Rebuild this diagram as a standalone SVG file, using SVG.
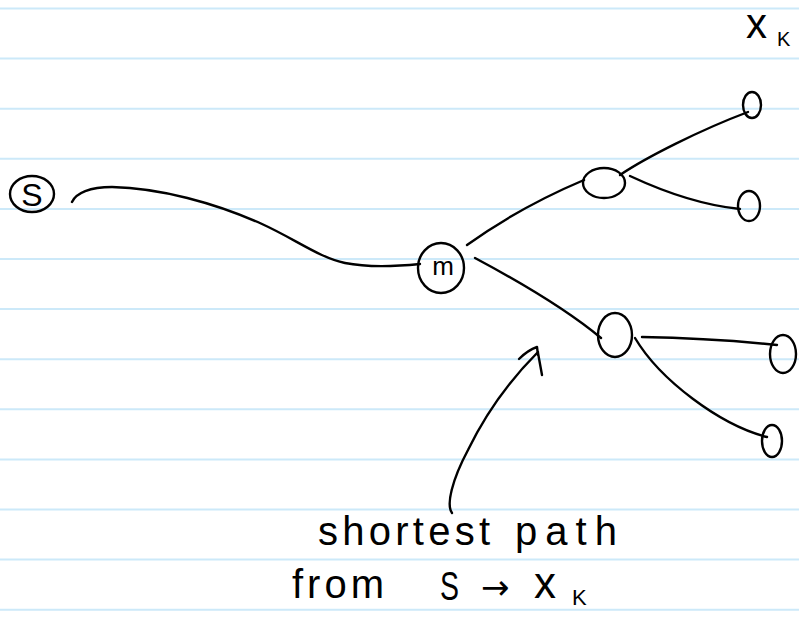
<svg xmlns="http://www.w3.org/2000/svg" width="799" height="636" viewBox="0 0 799 636">
<style>
.rule{stroke:#cce9f9;stroke-width:2}
.ink{fill:none;stroke:#000;stroke-width:2.4;stroke-linecap:round;stroke-linejoin:round}
.hand{font-family:"Liberation Sans",sans-serif;fill:#000}
.sym{font-family:"DejaVu Sans",sans-serif;fill:#000}
</style>
<rect width="799" height="636" fill="#fff"/>
<g id="ruled-lines">
<line class="rule" x1="0" y1="8.5" x2="799" y2="8.5"/>
<line class="rule" x1="0" y1="58.6" x2="799" y2="58.6"/>
<line class="rule" x1="0" y1="108.7" x2="799" y2="108.7"/>
<line class="rule" x1="0" y1="158.8" x2="799" y2="158.8"/>
<line class="rule" x1="0" y1="208.9" x2="799" y2="208.9"/>
<line class="rule" x1="0" y1="259" x2="799" y2="259"/>
<line class="rule" x1="0" y1="309.1" x2="799" y2="309.1"/>
<line class="rule" x1="0" y1="359.2" x2="799" y2="359.2"/>
<line class="rule" x1="0" y1="409.3" x2="799" y2="409.3"/>
<line class="rule" x1="0" y1="459.4" x2="799" y2="459.4"/>
<line class="rule" x1="0" y1="509.5" x2="799" y2="509.5"/>
<line class="rule" x1="0" y1="559.6" x2="799" y2="559.6"/>
<line class="rule" x1="0" y1="609.7" x2="799" y2="609.7"/>
</g>
<g id="connectors">
<path class="ink" d="M72,202 C76,193 90,187 112,187 C160,188 215,203 262,224 C295,239 320,258 345,263 C370,268 400,266 420,264"/>
<path class="ink" d="M467,245 Q520,207 584,180"/>
<path class="ink" d="M620,175 C645,158 700,130 748,112"/>
<path class="ink" d="M630,176 C660,190 700,205 740,209"/>
<path class="ink" d="M475,258 C520,282 565,308 601,338"/>
<path class="ink" d="M642,337 Q710,338 777,345"/>
<path class="ink" d="M635,338 C660,380 720,425 767,437"/>
</g>
<g id="node-s">
<ellipse class="ink" cx="32" cy="194" rx="22" ry="18"/>
<text class="hand" x="32" y="206" font-size="32" text-anchor="middle">S</text>
</g>
<g id="node-m">
<ellipse class="ink" cx="441" cy="268" rx="23" ry="25"/>
<text class="hand" x="443" y="275" font-size="26" text-anchor="middle">m</text>
</g>
<g id="node-upper"><ellipse class="ink" cx="604" cy="183" rx="21" ry="15"/></g>
<g id="node-lower"><ellipse class="ink" cx="615" cy="335" rx="17" ry="22"/></g>
<g id="leaf-1"><ellipse class="ink" cx="752" cy="105" rx="9" ry="13"/></g>
<g id="leaf-2"><ellipse class="ink" cx="749" cy="206" rx="11" ry="15"/></g>
<g id="leaf-3"><ellipse class="ink" cx="783" cy="354" rx="13" ry="19"/></g>
<g id="leaf-4"><ellipse class="ink" cx="772" cy="441" rx="10" ry="16"/></g>
<g id="label-xk">
<text class="hand" x="746" y="38" font-size="42">x</text>
<text class="hand" x="777" y="46" font-size="20">K</text>
</g>
<g id="annotation">
<path class="ink" d="M452,513 C446,505 452,480 468,450 C485,415 510,380 538,352"/>
<path class="ink" d="M519,359 Q528,350 537,347 L538,355 M538,353 L542,375"/>
<text class="hand" x="318" y="545" font-size="40" textLength="172" lengthAdjust="spacing">shortest</text>
<text class="hand" x="515" y="545" font-size="40" textLength="102" lengthAdjust="spacing">path</text>
<text class="hand" x="292" y="598" font-size="40" textLength="92" lengthAdjust="spacing">from</text>
<text class="hand" x="440" y="600" font-size="40" textLength="19" lengthAdjust="spacingAndGlyphs">S</text>
<text class="sym" x="481" y="599" font-size="34">→</text>
<text class="hand" x="534" y="598" font-size="44">x</text>
<text class="hand" x="572" y="605" font-size="22">K</text>
</g>
</svg>
